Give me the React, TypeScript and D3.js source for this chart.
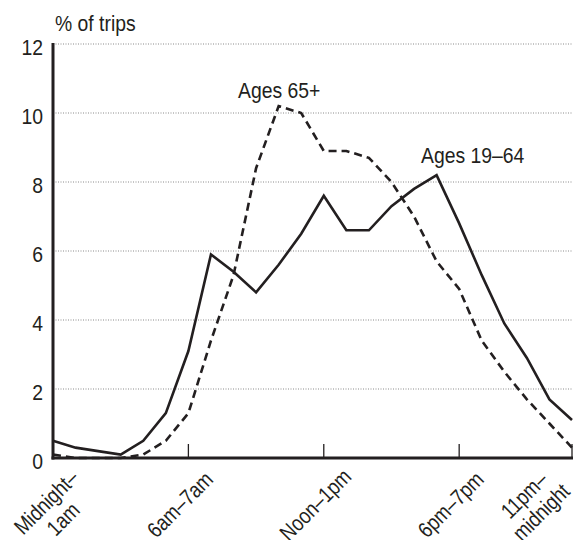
import { useEffect, useRef } from 'react';
import * as d3 from 'd3';

const hours = d3.range(24);
const ages19to64 = [0.5, 0.3, 0.2, 0.1, 0.5, 1.3, 3.1, 5.9, 5.4, 4.8, 5.6, 6.5, 7.6, 6.6, 6.6, 7.3, 7.8, 8.2, 6.8, 5.3, 3.9, 2.9, 1.7, 1.1];
const ages65plus = [0.1, 0.0, 0.0, 0.0, 0.1, 0.5, 1.3, 3.4, 5.3, 8.4, 10.2, 10.0, 8.9, 8.9, 8.7, 8.0, 7.0, 5.7, 4.9, 3.4, 2.5, 1.7, 1.0, 0.3];
const yTicks = [0, 2, 4, 6, 8, 10, 12];
const xTickHours = [0, 6, 12, 18, 23];
const xTickLabels = [['Midnight–', '1am'], ['6am–7am'], ['Noon–1pm'], ['6pm–7pm'], ['11pm–', 'midnight']];

const FONT = '"Liberation Sans", Arial, Helvetica, sans-serif';
const INK = '#231f20';
const SQUEEZE = 0.88;
const SQUEEZE_X = 0.84;
const FS = 22;

export default function App() {
	const svgRef = useRef<SVGSVGElement>(null);

	useEffect(() => {
		if (!svgRef.current) return;
		const svg = d3.select(svgRef.current);
		svg.selectAll('*').remove();

		const xScale = d3.scaleLinear().domain([0, 23]).range([53, 572]);
		const yScale = d3.scaleLinear().domain([0, 12]).range([458, 44]);

		// condensed-looking label: squeeze horizontally around the anchor
		const addText = (x: number, y: number, s: string | number, anchor = 'start') =>
			svg
				.append('text')
				.attr('transform', `translate(${x},${y}) scale(${SQUEEZE},1)`)
				.attr('text-anchor', anchor)
				.attr('font-family', FONT)
				.attr('font-size', FS)
				.attr('fill', INK)
				.text(s);

		// dotted gridlines
		svg
			.append('g')
			.selectAll('line')
			.data(yTicks.filter((t) => t > 0))
			.enter()
			.append('line')
			.attr('x1', xScale(0))
			.attr('x2', xScale(23))
			.attr('y1', (d) => yScale(d))
			.attr('y2', (d) => yScale(d))
			.attr('stroke', '#8a8a8a')
			.attr('stroke-width', 1)
			.attr('stroke-dasharray', '1,1.5');

		yTicks.forEach((t) => addText(43, yScale(t) + 11, t, 'end'));
		addText(55, 31, '% of trips');

		// x ticks (upward)
		svg
			.append('g')
			.selectAll('line')
			.data(xTickHours.filter((h) => h > 0))
			.enter()
			.append('line')
			.attr('x1', (d) => xScale(d))
			.attr('x2', (d) => xScale(d))
			.attr('y1', yScale(0))
			.attr('y2', yScale(0) - 14)
			.attr('stroke', INK)
			.attr('stroke-width', 1.3);

		const line = d3
			.line<number>()
			.x((_, i) => xScale(hours[i]))
			.y((d) => yScale(d));

		svg
			.append('path')
			.datum(ages65plus)
			.attr('fill', 'none')
			.attr('stroke', INK)
			.attr('stroke-width', 2.6)
			.attr('stroke-dasharray', '8,5')
			.attr('d', line);

		svg
			.append('path')
			.datum(ages19to64)
			.attr('fill', 'none')
			.attr('stroke', INK)
			.attr('stroke-width', 2.6)
			.attr('d', line);

		// axes
		svg
			.append('line')
			.attr('x1', xScale(0))
			.attr('x2', xScale(0))
			.attr('y1', yScale(12) - 1)
			.attr('y2', yScale(0) + 1.5)
			.attr('stroke', INK)
			.attr('stroke-width', 3);

		svg
			.append('line')
			.attr('x1', xScale(0) - 1.5)
			.attr('x2', xScale(23) + 1)
			.attr('y1', yScale(0))
			.attr('y2', yScale(0))
			.attr('stroke', INK)
			.attr('stroke-width', 3);

		// x labels, rotated; first and last are two lines (bottom is cut by the frame, as in the source)
		const labelShift = (h: number) =>
			h === 0 ? [2, 511] : h === 23 ? [-39, 504] : [-8, 505];

		svg
			.append('g')
			.selectAll('g')
			.data(xTickHours)
			.enter()
			.append('g')
			.attr('transform', (d) => {
				const [dx, y] = labelShift(d);
				return `translate(${xScale(d) + dx},${y}) rotate(-45) scale(${SQUEEZE_X},1)`;
			})
			.each(function (_, i) {
				const lines = xTickLabels[i];
				const lh = 24;
				const t = d3
					.select(this)
					.append('text')
					.attr('text-anchor', 'middle')
					.attr('font-family', FONT)
					.attr('font-size', FS)
					.attr('fill', INK);
				lines.forEach((s, k) => {
					t.append('tspan')
						.attr('x', 0)
						.attr('y', (k - (lines.length - 1) / 2) * lh + 7)
						.text(s);
				});
			});

		addText(238, 98, 'Ages 65+');
		addText(421, 163, 'Ages 19–64');
	}, []);

	return (
		<svg
			ref={svgRef}
			width={584}
			height={540}
			style={{ position: 'absolute', left: 0, top: 0, background: '#fff' }}
		></svg>
	);
}
